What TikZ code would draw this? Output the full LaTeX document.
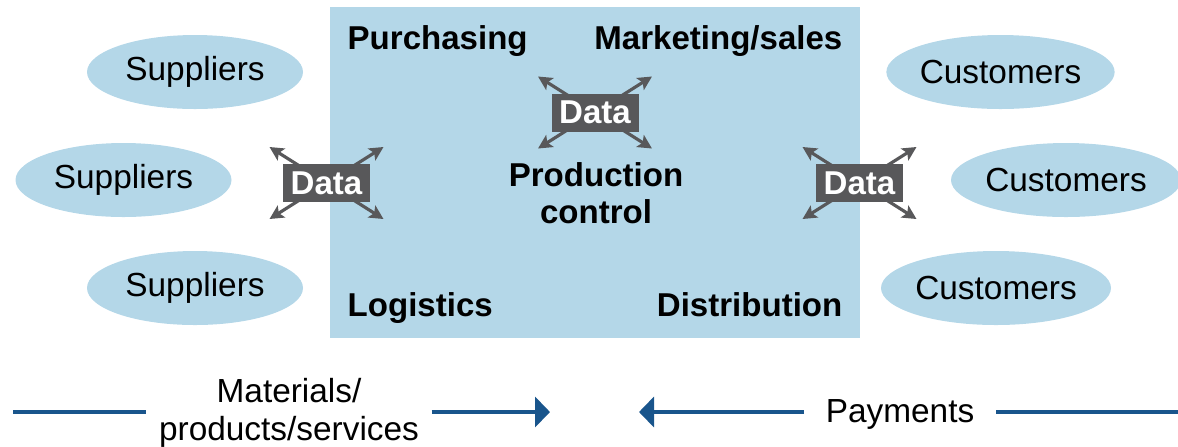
\documentclass[tikz,border=0pt]{standalone}
\usepackage{fontspec}
\setmainfont{Liberation Sans}
\usetikzlibrary{arrows.meta,shapes.geometric}
\definecolor{firmblue}{RGB}{180,215,232}
\definecolor{datagray}{RGB}{88,88,90}
\definecolor{flowblue}{RGB}{25,85,140}
\begin{document}
\begin{tikzpicture}[line join=round,font=\fontsize{9.5}{11}\selectfont,
	partner/.style={ellipse,fill=firmblue,inner sep=0pt,minimum height=0.74cm},
	label/.style={font=\fontsize{9.4}{11}\selectfont\bfseries,inner sep=0pt},
	databox/.style={fill=datagray,text=white,font=\fontsize{9.4}{11}\selectfont\bfseries,minimum width=0.87cm,minimum height=0.38cm,inner sep=0pt},
	datarrow/.style={draw=datagray,line width=0.9pt,-{Stealth[length=0.14cm,width=0.14cm,inset=0.03cm]}},
	flow/.style={draw=flowblue,line width=1.15pt}]
	\useasboundingbox (0,0) rectangle (11.78,4.46);
	% the firm
	\node[fill=firmblue,minimum width=5.3cm,minimum height=3.31cm,inner sep=0pt] (firm) at (5.95,2.735) {};
	\path
	(3.47,3.97) node[label,anchor=base west] (purch) {Purchasing}
	(8.43,3.97) node[label,anchor=base east] (mkt) {Marketing/sales}
	(3.47,1.30) node[label,anchor=base west] (logi) {Logistics}
	(8.43,1.30) node[label,anchor=base east] (distr) {Distribution}
	(5.96,2.53) node[label,align=center,font=\fontsize{9.4}{10.5}\selectfont\bfseries] (prod) {Production\\control}
	;
	% suppliers and customers
	\node[partner,minimum width=2.16cm] (sup1) at (1.95,3.74) {Suppliers};
	\node[partner,minimum width=2.16cm] (sup2) at (1.235,2.66) {Suppliers};
	\node[partner,minimum width=2.16cm] (sup3) at (1.95,1.58) {Suppliers};
	\node[partner,minimum width=2.25cm] (cus1) at (10.005,3.74) {Customers};
	\node[partner,minimum width=2.3cm] (cus2) at (10.66,2.66) {Customers};
	\node[partner,minimum width=2.3cm] (cus3) at (9.96,1.58) {Customers};
	% data exchange
	\coordinate (dl) at (3.265,2.63);
	\coordinate (dc) at (5.95,3.335);
	\coordinate (dr) at (8.595,2.63);
	\foreach \d in {dl,dc,dr}{
		\foreach \sx/\sy in {1/1,1/-1,-1/1,-1/-1}
			\draw[datarrow] (\d) -- ++(0.57*\sx,0.36*\sy);
	}
	\node[databox] (datal) at (dl) {Data};
	\node[databox] (datac) at (dc) {Data};
	\node[databox] (datar) at (dr) {Data};
	% flows
	\node[align=center,inner xsep=0.12cm,inner ysep=0pt,font=\fontsize{9.5}{10.8}\selectfont] (mat) at (2.89,0.33) {Materials/\\products/services};
	\node[inner xsep=0.21cm] (pay) at (9.0,0.315) {Payments};
	\coordinate (matstart) at (0.135,0.34);
	\coordinate (matend) at (5.5,0.34);
	\coordinate (paystart) at (11.78,0.34);
	\coordinate (payend) at (6.39,0.34);
	\draw[flow] (matstart) -- (matstart-|mat.west);
	\draw[flow,-{Triangle[length=0.15cm,width=0.3cm]}] (matend-|mat.east) -- (matend);
	\draw[flow] (paystart) -- (paystart-|pay.east);
	\draw[flow,-{Triangle[length=0.15cm,width=0.3cm]}] (payend-|pay.west) -- (payend);
\end{tikzpicture}
\end{document}
